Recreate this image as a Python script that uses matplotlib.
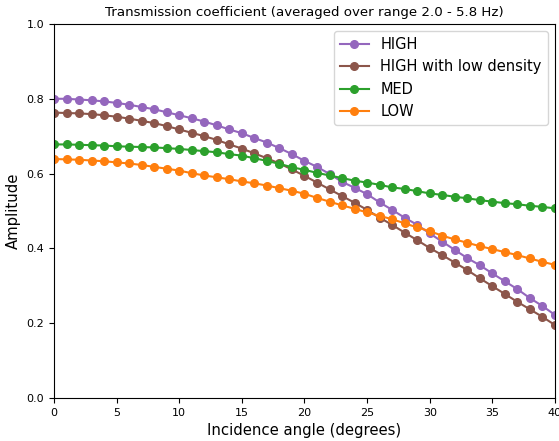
import numpy as np
import matplotlib
matplotlib.use('Agg')
import matplotlib.pyplot as plt

# incidence angles, degrees
angles = np.arange(0, 41)

high = [0.800, 0.800, 0.798, 0.796, 0.793, 0.789, 0.784, 0.778, 0.772, 0.764,
        0.756, 0.748, 0.739, 0.729, 0.718, 0.708, 0.695, 0.683, 0.668, 0.652,
        0.634, 0.618, 0.599, 0.578, 0.562, 0.545, 0.523, 0.503, 0.482, 0.463,
        0.440, 0.418, 0.396, 0.374, 0.355, 0.333, 0.312, 0.291, 0.267, 0.246,
        0.222]
high_low_density = [0.763, 0.762, 0.761, 0.759, 0.756, 0.752, 0.747, 0.741, 0.735, 0.727,
                    0.718, 0.709, 0.700, 0.690, 0.678, 0.667, 0.654, 0.641, 0.627, 0.611,
                    0.594, 0.576, 0.558, 0.540, 0.522, 0.503, 0.482, 0.463, 0.442, 0.422,
                    0.401, 0.382, 0.362, 0.342, 0.320, 0.299, 0.278, 0.257, 0.237, 0.217,
                    0.195]
med = [0.678, 0.678, 0.677, 0.676, 0.675, 0.673, 0.672, 0.671, 0.670, 0.668,
       0.666, 0.663, 0.660, 0.657, 0.652, 0.648, 0.641, 0.634, 0.626, 0.617,
       0.610, 0.602, 0.595, 0.588, 0.581, 0.576, 0.570, 0.563, 0.559, 0.553,
       0.547, 0.543, 0.538, 0.534, 0.529, 0.525, 0.521, 0.518, 0.514, 0.511,
       0.507]
low = [0.639, 0.638, 0.637, 0.635, 0.633, 0.630, 0.627, 0.623, 0.618, 0.613,
       0.608, 0.601, 0.595, 0.590, 0.585, 0.579, 0.574, 0.568, 0.561, 0.554,
       0.546, 0.535, 0.525, 0.515, 0.506, 0.496, 0.487, 0.478, 0.467, 0.456,
       0.446, 0.434, 0.424, 0.415, 0.406, 0.398, 0.390, 0.382, 0.373, 0.364,
       0.356]

fig = plt.figure(figsize=(5.59, 4.41), dpi=100)
ax = fig.add_axes([0.0966, 0.0975, 0.8962, 0.8481])

ax.plot(angles, high, 'o-', color='tab:purple', markersize=5.5, label='HIGH')
ax.plot(angles, high_low_density, 'o-', color='tab:brown', markersize=5.5, label='HIGH with low density')
ax.plot(angles, med, 'o-', color='tab:green', markersize=5.5, label='MED')
ax.plot(angles, low, 'o-', color='tab:orange', markersize=5.5, label='LOW')

ax.set_xlim(0, 40)
ax.set_ylim(0.0, 1.0)
ax.tick_params(labelsize=8)
ax.set_xlabel('Incidence angle (degrees)', fontsize=10.7)
ax.set_ylabel('Amplitude', fontsize=10.7)
ax.set_title('Transmission coefficient (averaged over range 2.0 - 5.8 Hz)', fontsize=9.6)
ax.legend(loc='upper right', fontsize=10.5)

fig.savefig('out.png', dpi=100)
